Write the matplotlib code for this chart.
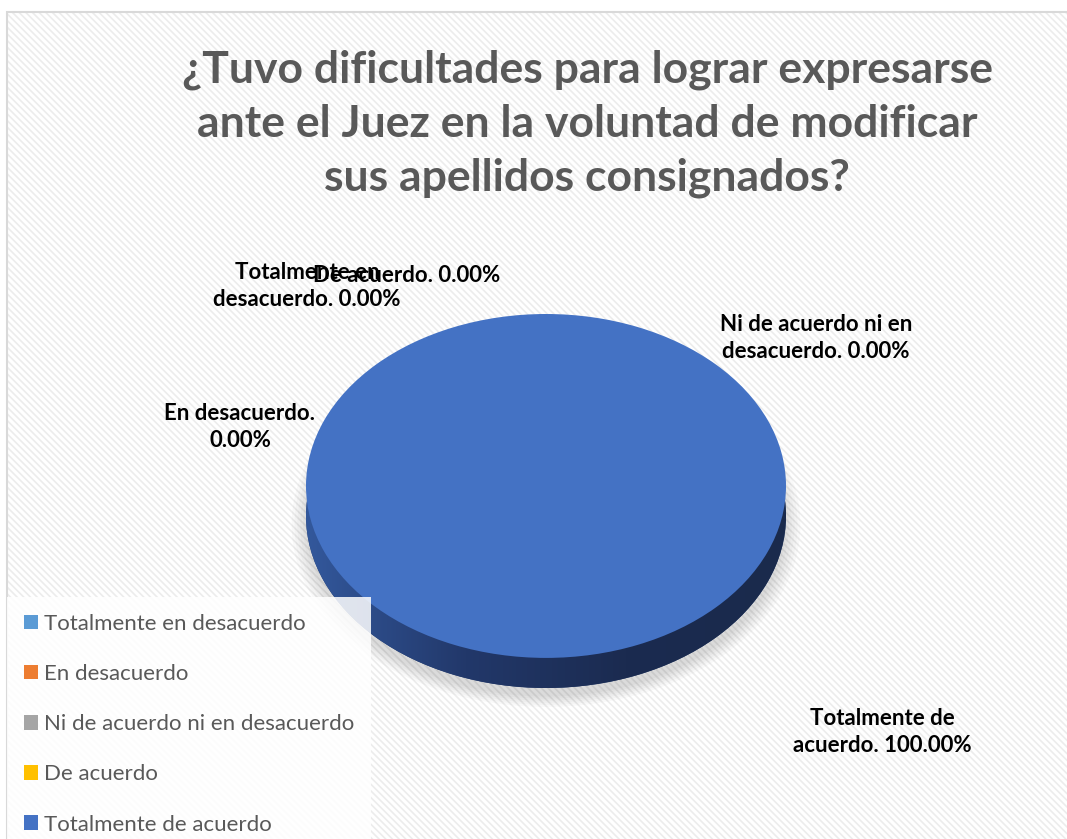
import numpy as np
import matplotlib
matplotlib.use("Agg")
import matplotlib.pyplot as plt
from matplotlib.patches import Rectangle
from matplotlib.colors import LinearSegmentedColormap

# --- data ---
categories = ["Totalmente en desacuerdo", "En desacuerdo",
              "Ni de acuerdo ni en desacuerdo", "De acuerdo",
              "Totalmente de acuerdo"]
values = [0, 0, 0, 0, 100]
colors = ["#5b9bd5", "#ed7d31", "#a5a5a5", "#ffc000", "#4472c4"]
side_colors = ["#3a6a96", "#8a481c", "#606060", "#947000", "#243e6e"]

# label text wraps as in the original chart
label_lines = [("Totalmente en", "desacuerdo. {:.2f}%"),
               ("En desacuerdo.", "{:.2f}%"),
               ("Ni de acuerdo ni en", "desacuerdo. {:.2f}%"),
               ("De acuerdo. {:.2f}%",),
               ("Totalmente de", "acuerdo. {:.2f}%")]
label_pos = [(307, 286), (240, 427), (816, 338), (407, 275), (882, 732)]  # px

title = ("¿Tuvo dificultades para lograr expresarse\n"
         "ante el Juez en la voluntad de modificar\n"
         "sus apellidos consignados?")

W, H = 1067, 839
plt.rcParams["font.family"] = ["Lato", "DejaVu Sans"]
plt.rcParams["hatch.linewidth"] = 1.2

fig = plt.figure(figsize=(W / 100, H / 100), dpi=100, facecolor="white")

# chart area background with fine diagonal stripes
bg = Rectangle((7 / W, 0), 1 - 7 / W, 1 - 12 / H, transform=fig.transFigure,
               facecolor="white", edgecolor="#ececec", hatch="\\\\\\\\\\",
               linewidth=0, zorder=-2)
fig.patches.append(bg)
border = Rectangle((7 / W, -0.01), 1.01 - 7 / W, 1.01 - 12 / H,
                   transform=fig.transFigure, facecolor="none",
                   edgecolor="#d9d9d9", linewidth=1.5, zorder=-1)
fig.patches.append(border)

# pie axes: x units 240 px, y units 172 px (tilted look)
x0, x1, y0, y1 = 282, 810, 297, 706
ax = fig.add_axes([x0 / W, 1 - y1 / H, (x1 - x0) / W, (y1 - y0) / H])
ax.patch.set_visible(False)
depth = 0.175

# soft shadow
for k in range(6):
    ax.pie(values, colors=["#000000"] * len(values), startangle=90,
           counterclock=False, radius=1.0 + 0.012 * k,
           center=(0, -depth - 0.05),
           wedgeprops=dict(linewidth=0, alpha=0.025))

# side of the disc
side, _ = ax.pie(values, colors=side_colors, startangle=90, counterclock=False,
                 center=(0, -depth), wedgeprops=dict(linewidth=0))
grad = LinearSegmentedColormap.from_list(
    "side", ["#33589c", "#22386a", "#1b2b50", "#1a2a4c"])
img = ax.imshow(np.linspace(0, 1, 256)[None, :], cmap=grad, aspect="auto",
                extent=(-1, 1, -1.3, 0), zorder=2)
img.set_clip_path(side[int(np.argmax(values))])

# top of the disc
wedges, _ = ax.pie(values, colors=colors, startangle=90, counterclock=False,
                   wedgeprops=dict(linewidth=0))
for w in wedges:
    w.set_zorder(3)

ax.set_aspect("auto")
ax.set_xlim(-1.1, 1.1)
ax.set_ylim(-1 - depth - (706 - 688) / 172, 1 + 17 / 172)
ax.axis("off")

# data labels
for lines, v, (px, py) in zip(label_lines, values, label_pos):
    txt = "\n".join(s.format(v) if "{" in s else s for s in lines)
    fig.text(px / W, 1 - py / H, txt, ha="center", va="center",
             fontsize=16, fontweight="bold", color="black", linespacing=1.35,
             zorder=5)

fig.text(587 / W, 1 - 124 / H, title, ha="center", va="center",
         fontsize=32, fontweight="bold", color="#595959", linespacing=1.42)

leg = fig.legend(wedges, categories, loc="upper left",
                 bbox_to_anchor=(7 / W, 1 - 597 / H), fontsize=16, frameon=True,
                 fancybox=False, edgecolor="none", facecolor="white",
                 framealpha=0.85, handlelength=0.63, handleheight=0.63,
                 handletextpad=0.3, labelspacing=1.36, borderpad=0.75,
                 borderaxespad=0)
for t in leg.get_texts():
    t.set_color("#595959")

fig.savefig("out.png", dpi=100, facecolor="white")
